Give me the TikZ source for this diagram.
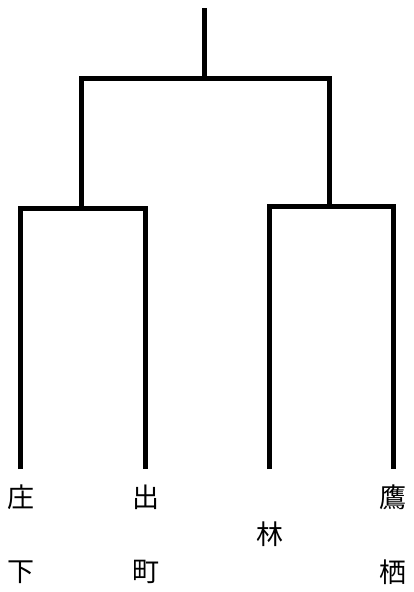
\documentclass[tikz,border=0pt]{standalone}
\usepackage{fontspec}
\newfontfamily\jpfont{Noto Sans CJK JP}
\begin{document}
\begin{tikzpicture}[x=1pt, y=-1pt, every node/.style={font=\jpfont\fontsize{27}{27}\selectfont, inner sep=0pt},
  branch/.style={line width=5pt}]
\useasboundingbox (0,0) rectangle (414,592);
% leaf ends and joints
\coordinate (sh) at (20,469);
\coordinate (de) at (145,469);
\coordinate (ha) at (269,469);
\coordinate (ta) at (393,469);
\coordinate (left) at (81,208);
\coordinate (right) at (329,206);
\coordinate (root) at (204,78);
\coordinate (top) at (204,8);
% labels
\node (sh1) at (21,497) {庄};
\node (sh2) at (21,572) {下};
\node (de1) at (146,497) {出};
\node (de2) at (146,572) {町};
\node (ha1) at (270,534) {林};
\node (ta1) at (393,497) {鷹};
\node (ta2) at (393,572) {栖};
% tree
\draw[branch] (sh) |- (left) -| (de);
\draw[branch] (ha) |- (right) -| (ta);
\draw[branch] (left) |- (root) -| (right);
\draw[branch] (root) -- (top);
\end{tikzpicture}
\end{document}
